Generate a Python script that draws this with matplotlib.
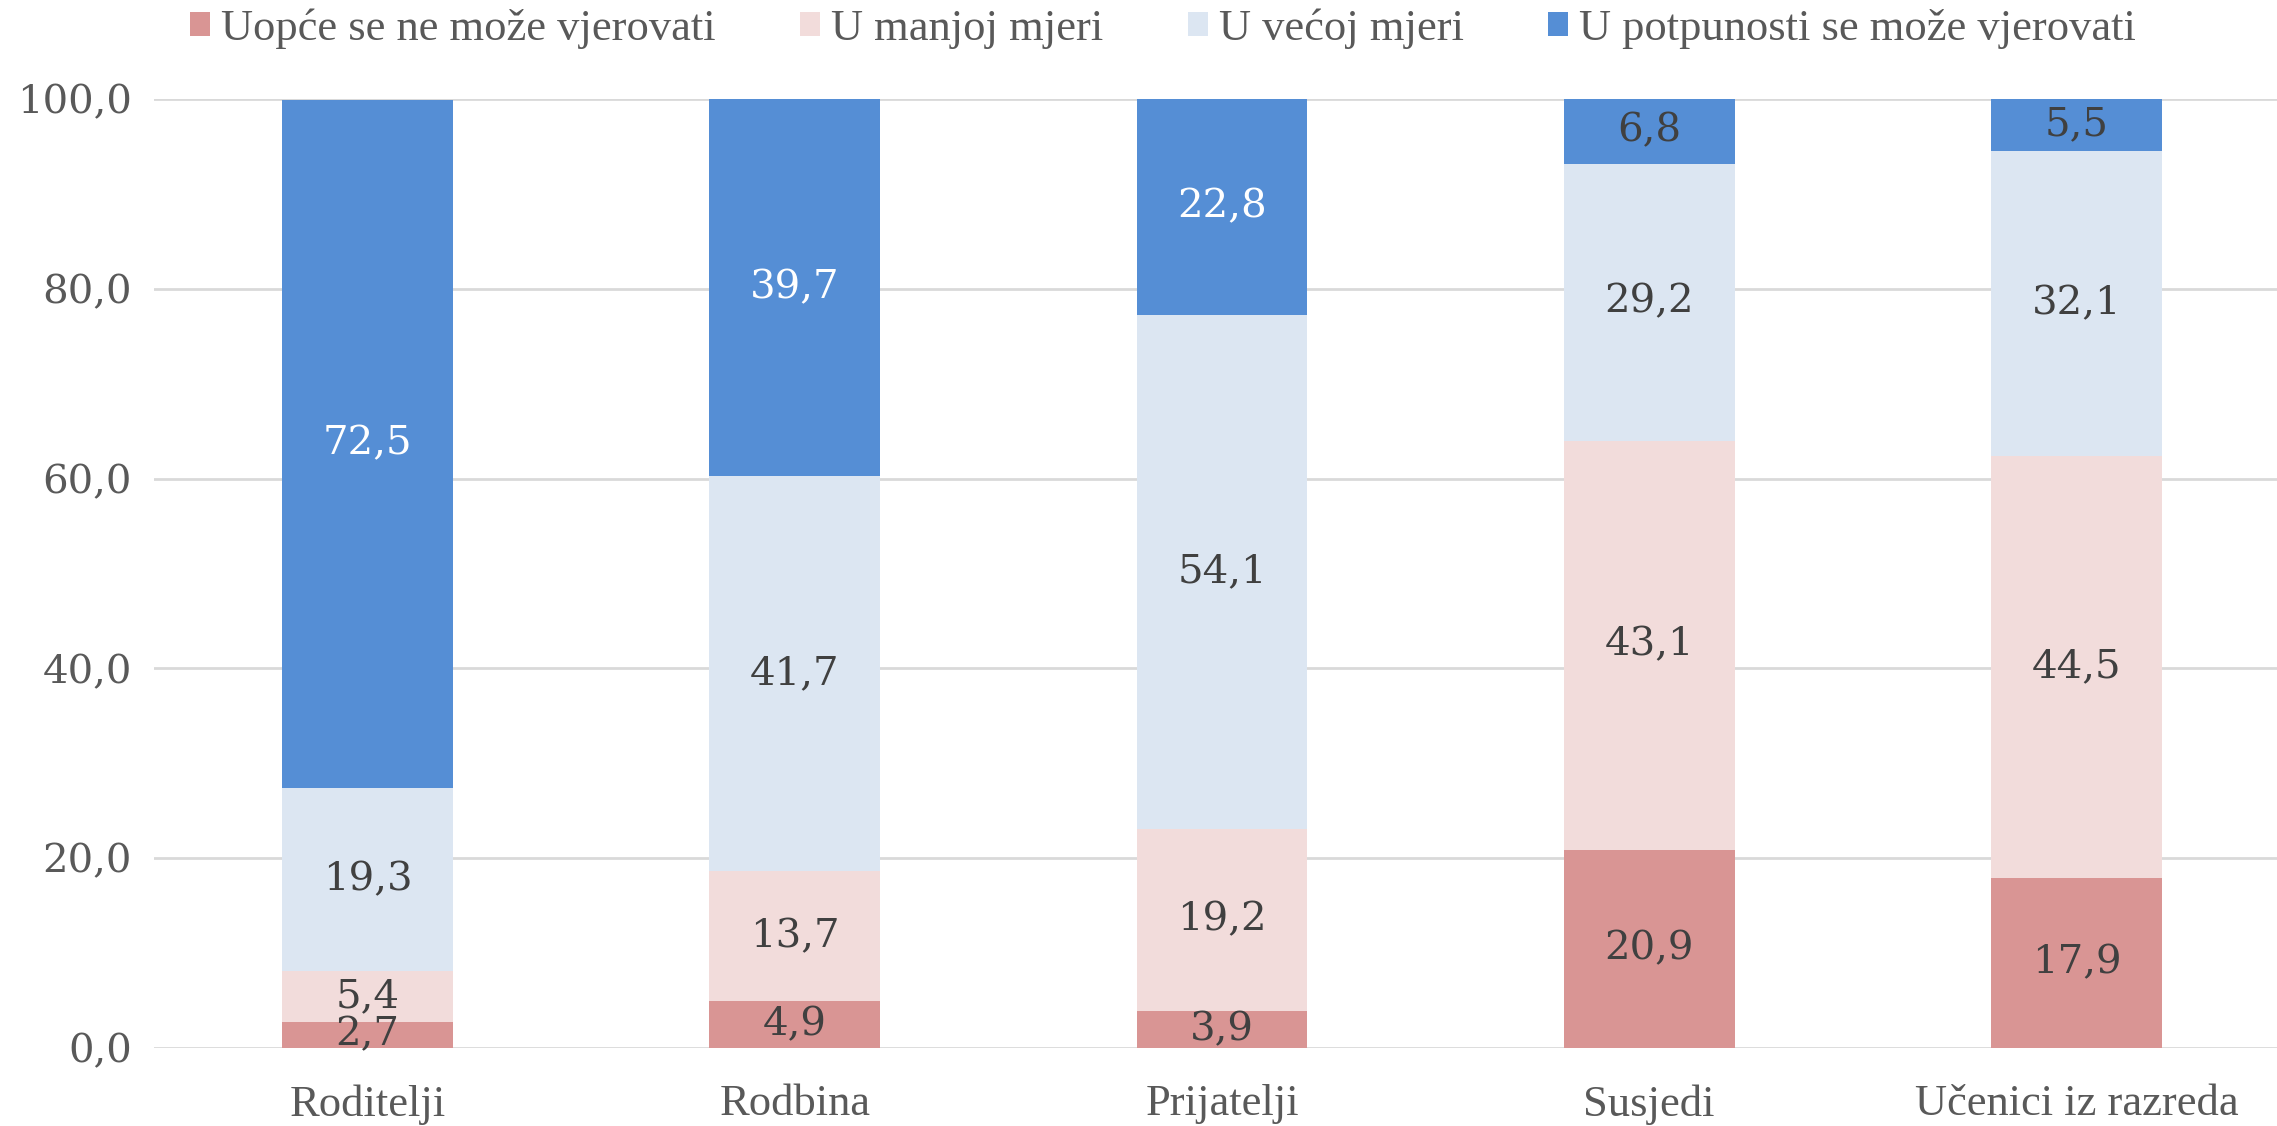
import matplotlib
matplotlib.use("Agg")
import matplotlib.pyplot as plt
from matplotlib.patches import Patch
import numpy as np

categories = ["Roditelji", "Rodbina", "Prijatelji", "Susjedi", "Učenici iz razreda"]
series_names = ["Uopće se ne može vjerovati", "U manjoj mjeri", "U većoj mjeri",
                "U potpunosti se može vjerovati"]
s_uopce = [2.7, 4.9, 3.9, 20.9, 17.9]
s_manjoj = [5.4, 13.7, 19.2, 43.1, 44.5]
s_vecoj = [19.3, 41.7, 54.1, 29.2, 32.1]
s_potpuno = [72.5, 39.7, 22.8, 6.8, 5.5]
yticks = [0, 20, 40, 60, 80, 100]
ytick_labels = ["0,0", "20,0", "40,0", "60,0", "80,0", "100,0"]

colors = ["#D99594", "#F2DCDB", "#DCE6F2", "#558ED5"]
TFONT = ["Liberation Serif", "DejaVu Serif"]
NFONT = ["DejaVu Serif"]
TFS = 32
NFS = 29

fig = plt.figure(figsize=(22.77, 11.26), dpi=100)
ax = fig.add_axes([154/2277, 1 - 1048/1126, 2136/2277, (1048 - 99)/1126])

x = np.arange(len(categories))
series = [s_uopce, s_manjoj, s_vecoj, s_potpuno]
bottom = np.zeros(len(categories))
for i, vals in enumerate(series):
    vals = np.array(vals)
    ax.bar(x, vals, width=0.4, bottom=bottom, color=colors[i], zorder=2)
    for j, v in enumerate(vals):
        tc = "white" if (i == 3 and v > 15) else "#404040"
        ax.text(x[j], bottom[j] + v / 2, f"{v:.1f}".replace(".", ","),
                ha="center", va="center", fontsize=NFS, family=NFONT, color=tc, zorder=3)
    bottom += vals

ax.set_xlim(-0.5, 4.5)
ax.set_ylim(0, 100)
ax.set_yticks(yticks)
ax.set_yticklabels(ytick_labels, family=NFONT, fontsize=NFS, color="#595959")
ax.set_xticks(x)
ax.set_xticklabels(categories, family=TFONT, fontsize=TFS, color="#595959")
ax.tick_params(axis="both", length=0)
ax.tick_params(axis="y", pad=16)
ax.tick_params(axis="x", pad=26)
ax.grid(axis="y", color="#D9D9D9", linewidth=2, zorder=0)
for s in ax.spines.values():
    s.set_visible(False)

handles = [Patch(facecolor=c, edgecolor="none") for c in colors]
fig.legend(handles, series_names, loc="center", bbox_to_anchor=(1163/2277, 1 - 29/1126),
           ncol=4, frameon=False, prop={"family": TFONT, "size": TFS},
           handlelength=0.45, handleheight=0.45, handletextpad=0.25, columnspacing=1.9,
           labelcolor="#595959")

fig.savefig("out.png", dpi=100)
